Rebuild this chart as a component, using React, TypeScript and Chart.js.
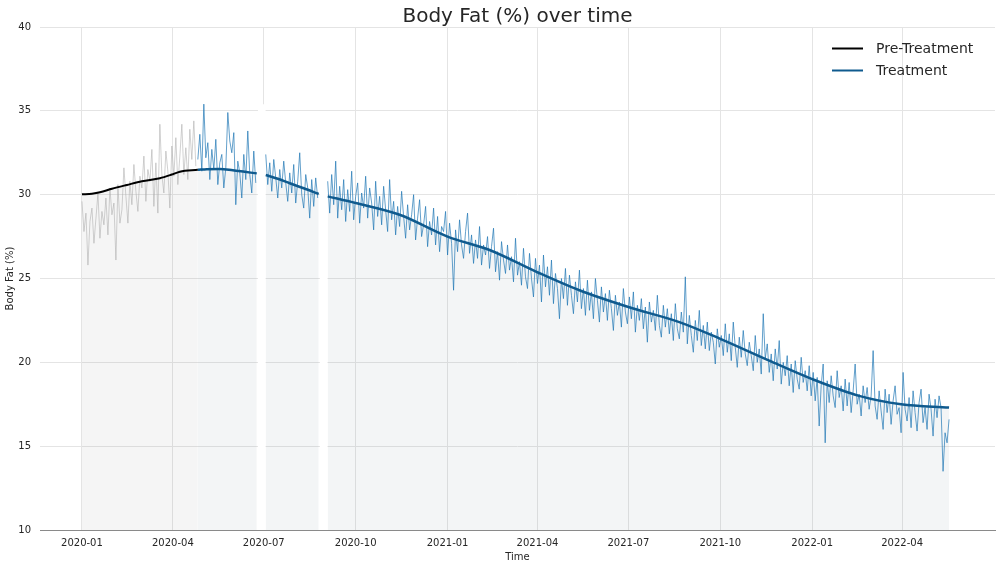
import React, { useEffect, useRef } from 'react';
import { Chart, registerables } from 'chart.js';

Chart.register(...registerables);

// ---- data ---------------------------------------------------------------

const TITLE = 'Body Fat (%) over time';
const X_TITLE = 'Time';
const Y_TITLE = 'Body Fat (%)';
const LEGEND_LABELS = ['Pre-Treatment', 'Treatment'];

const xTickLabels = [
  '2020-01', '2020-04', '2020-07', '2020-10', '2021-01',
  '2021-04', '2021-07', '2021-10', '2022-01', '2022-04',
];
const yTicks = [10, 15, 20, 25, 30, 35, 40];

// raw measurements, one every SAMPLE_STEP_DAYS days from each start date
const SAMPLE_STEP_DAYS = 2;

const preStart = '2020-01-01';
const preRaw = [
  29.6, 27.8, 28.9, 25.8, 28.4, 29.2, 27.1, 28.6, 30.1, 27.4, 29.0, 28.2, 29.8, 27.6, 30.4, 28.8,
  29.5, 26.1, 30.6, 28.3, 29.1, 31.6, 29.9, 28.3, 30.8, 29.4, 31.8, 30.2, 29.0, 31.1,
  30.4, 32.3, 29.6, 31.5, 30.8, 32.7, 29.3, 31.9, 28.9, 34.2, 31.2, 30.1, 32.6, 31.4, 29.2, 32.9,
  31.1, 33.4, 30.6, 32.3, 34.2, 31.2, 32.8, 30.9, 33.9, 32.1, 34.4, 31.7,
];

const treatStartA = '2020-04-26';
const treatRawA = [
  32.1, 33.6, 31.4, 35.4, 32.2, 33.1, 30.9, 32.7, 31.5, 33.3,
  30.6, 31.9, 32.4, 30.4, 31.6, 34.9, 33.2, 32.5, 33.7, 29.4,
  32.0, 31.3, 29.8, 32.4, 30.9, 33.8, 31.2, 30.1, 32.6, 30.7,
];

const treatStartB = '2020-07-03';
const treatRawB = [
  32.4, 30.6, 31.9, 30.2, 32.1, 31.0, 29.8, 31.5, 30.4, 32.0,
  30.7, 29.6, 31.3, 30.1, 31.8, 29.5, 30.8, 32.5, 30.0, 29.2,
  31.2, 30.4, 28.6, 30.9, 29.3, 31.0, 29.8,
];

const treatStartC = '2020-09-03';
const treatRawC = [
  30.8, 28.9, 31.2, 29.4, 32.0, 28.6, 30.5, 29.1, 30.9, 28.4,
  30.3, 29.0, 31.4, 28.5, 29.9, 30.7, 28.3, 30.1, 29.2, 31.1,
  28.6, 30.4, 29.5, 27.9, 30.8, 28.7, 29.9, 28.2, 30.5, 29.1,
  27.8, 30.9, 28.5, 29.6, 27.6, 29.3, 28.1, 30.2, 28.7, 27.4,
  29.4, 27.9, 28.8, 30.0, 27.3, 28.6, 29.7, 27.5, 28.2, 29.3,
  26.9, 28.4, 27.6, 29.2, 27.0, 28.7, 26.6, 28.1, 27.8, 29.0,
  26.4, 28.3, 27.1, 24.3, 27.9, 26.6, 28.5, 27.0, 26.2, 27.8,
  28.9, 26.5, 27.6, 25.9, 27.3, 26.2, 28.1, 25.8, 27.0, 26.4,
  27.5, 25.6, 26.9, 28.0, 25.4, 26.6, 24.9, 27.2, 26.1, 25.3,
  27.0, 25.5, 26.3, 24.8, 27.4, 25.2, 26.0, 24.6, 26.8, 25.1,
  24.4, 26.5, 25.0, 23.9, 26.2, 24.7, 25.8, 23.6, 26.4, 24.5,
  25.7, 24.0, 26.1, 23.5, 25.3, 24.4, 22.6, 25.0, 23.8, 25.6,
  23.4, 25.2, 24.0, 22.9, 24.8, 23.6, 25.5, 23.2, 24.4, 22.8,
  24.9, 23.1, 24.2, 22.6, 25.0, 23.7, 22.4, 24.5, 23.0, 24.1,
  22.5, 24.3, 23.2, 21.9, 24.0, 22.8, 23.6, 22.1, 24.4, 23.0,
  22.3, 23.9, 22.6, 24.2, 21.8, 23.4, 22.5, 23.8, 22.0, 23.3,
  21.2, 23.6, 22.4, 23.1, 21.9, 24.0, 22.2, 21.5, 23.4, 22.1,
  23.2, 21.7, 22.9, 21.3, 23.5, 22.0, 21.4, 23.0, 21.8, 25.1,
  21.1, 22.8, 21.6, 20.6, 22.5, 21.3, 23.1, 21.0, 22.2, 20.8,
  22.4, 20.7, 21.8, 21.2, 19.9, 22.0, 20.9, 21.6, 20.4, 22.3,
  20.6, 21.7, 20.1, 22.4, 20.9, 19.7, 21.5, 20.3, 21.9, 20.5,
  19.8, 21.2, 20.4, 19.5, 21.6, 20.0, 20.8, 19.3, 22.9, 20.2,
  21.1, 19.4, 20.5, 18.9, 20.8, 19.6, 21.3, 18.7, 20.0, 19.2,
  20.4, 18.6, 19.9, 18.2, 20.1, 19.0, 18.4, 20.3, 18.8, 19.5,
  18.3, 19.8, 18.0, 19.4, 17.7, 19.1, 16.2, 18.6, 19.9, 15.2,
  18.9, 17.6, 19.2, 18.0, 17.3, 19.5, 17.9, 18.6, 17.1, 19.0,
  17.4, 18.8, 17.0, 18.3, 19.9, 17.5, 18.1, 16.8, 18.6, 17.6,
  18.5, 17.2, 18.0, 20.7, 17.4, 16.6, 18.3, 17.1, 16.0, 18.4,
  17.0, 18.1, 16.3, 17.7, 18.6, 16.9, 17.3, 15.8, 19.4, 17.2,
  16.5, 17.9, 16.1, 18.3, 17.0, 15.9, 17.6, 18.4, 16.4, 17.3,
  16.0, 18.1, 17.2, 15.6, 17.8, 16.7, 18.0, 17.3, 13.5, 15.8,
  15.2, 16.6,
];

// smoothed trend lines
const preSmoothDates = [
  '2020-01-01', '2020-01-11', '2020-01-19', '2020-01-31', '2020-02-15',
  '2020-03-01', '2020-03-19', '2020-03-31', '2020-04-08', '2020-04-26',
];
const preSmooth = [30.02, 30.06, 30.14, 30.35, 30.58, 30.8, 30.98, 31.2, 31.37, 31.48];

const treatSmoothDatesA = ['2020-04-26', '2020-05-05', '2020-05-18', '2020-05-31', '2020-06-12', '2020-06-24'];
const treatSmoothA = [31.48, 31.52, 31.53, 31.45, 31.36, 31.27];

const treatSmoothDatesB = ['2020-07-03', '2020-07-15', '2020-07-27', '2020-08-10', '2020-08-25'];
const treatSmoothB = [31.17, 30.95, 30.68, 30.38, 30.04];

const treatSmoothDatesC = [
  '2020-09-03', '2020-10-01', '2020-11-14', '2021-01-01', '2021-02-12',
  '2021-03-31', '2021-05-13', '2021-07-01', '2021-08-21', '2021-10-01',
  '2021-11-19', '2022-01-01', '2022-02-17', '2022-03-31', '2022-05-18',
];
const treatSmoothC = [29.9, 29.5, 28.8, 27.5, 26.7, 25.4, 24.3, 23.3, 22.4, 21.4, 20.1, 19.0, 18.0, 17.5, 17.3];

// blank periods without measurements
const gapStarts = ['2020-06-25', '2020-08-26'];
const gapEnds = ['2020-07-03', '2020-09-03'];
const gapTops = [35.4, 32.0];

// ---- styling ------------------------------------------------------------

const FONT = '"DejaVu Sans", "Liberation Sans", sans-serif';
const TEXT = '#262626';
const GRID = '#e4e4e4';
const PRE_LINE = '#000000';
const TREAT_LINE = '#0f5a8e';
const PRE_RAW = 'rgba(170,170,170,0.6)';
const TREAT_RAW = 'rgba(31,119,180,0.78)';
const PRE_FILL = 'rgba(128,128,128,0.08)';
const TREAT_FILL = 'rgba(100,115,140,0.075)';

// ---- helpers ------------------------------------------------------------

const DAY0 = Date.UTC(2020, 0, 1);
const MS_DAY = 86400000;
const dayOf = (iso: string) => Math.round((Date.parse(iso + 'T00:00:00Z') - DAY0) / MS_DAY);
const tickDays = xTickLabels.map((m) => dayOf(m + '-01'));

const rawPoints = (start: string, values: number[]) => {
  const d0 = dayOf(start);
  return values.map((v, i) => ({ x: d0 + i * SAMPLE_STEP_DAYS, y: v }));
};
const datedPoints = (dates: string[], values: number[]) =>
  dates.map((d, i) => ({ x: dayOf(d), y: values[i] }));

const X_MIN = -42;
const X_MAX = 914;

// title and legend, placed relative to the plot area
const overlayText = {
  id: 'overlayText',
  afterDraw(chart: any) {
    const { ctx, chartArea } = chart;
    ctx.save();
    ctx.fillStyle = TEXT;
    ctx.font = `20px ${FONT}`;
    ctx.textAlign = 'center';
    ctx.textBaseline = 'middle';
    ctx.fillText(TITLE, (chartArea.left + chartArea.right) / 2, 17);

    const colors = [PRE_LINE, TREAT_LINE];
    ctx.font = `14px ${FONT}`;
    ctx.textAlign = 'left';
    LEGEND_LABELS.forEach((label, i) => {
      const y = chartArea.top + 21.5 + i * 22;
      ctx.strokeStyle = colors[i];
      ctx.lineWidth = 2;
      ctx.beginPath();
      ctx.moveTo(chartArea.right - 163, y);
      ctx.lineTo(chartArea.right - 132, y);
      ctx.stroke();
      ctx.fillText(label, chartArea.right - 119, y + 1);
    });
    ctx.restore();
  },
};

export default function App() {
  const canvasRef = useRef<HTMLCanvasElement | null>(null);

  useEffect(() => {
    document.body.style.margin = '0';
    const canvas = canvasRef.current;
    if (!canvas) return;

    const smoothLine = (data: any[], color: string, fill: string, width: number) => ({
      data,
      borderColor: color,
      borderWidth: width,
      backgroundColor: fill,
      fill: 'start',
      pointRadius: 0,
      cubicInterpolationMode: 'monotone',
    });
    const rawLine = (data: any[], color: string) => ({
      data,
      borderColor: color,
      borderWidth: 0.9,
      fill: false,
      pointRadius: 0,
      tension: 0,
    });
    const gapBand = (i: number) => ({
      data: [
        { x: dayOf(gapStarts[i]), y: gapTops[i] },
        { x: dayOf(gapEnds[i]), y: gapTops[i] },
      ],
      borderWidth: 0,
      borderColor: 'rgba(0,0,0,0)',
      backgroundColor: '#ffffff',
      fill: 'start',
      pointRadius: 0,
    });

    const chart = new Chart(canvas, {
      type: 'line',
      data: {
        datasets: [
          smoothLine(datedPoints(preSmoothDates, preSmooth), PRE_LINE, PRE_FILL, 2),
          smoothLine(datedPoints(treatSmoothDatesA, treatSmoothA), TREAT_LINE, TREAT_FILL, 2.5),
          smoothLine(datedPoints(treatSmoothDatesB, treatSmoothB), TREAT_LINE, TREAT_FILL, 2.5),
          smoothLine(datedPoints(treatSmoothDatesC, treatSmoothC), TREAT_LINE, TREAT_FILL, 2.5),
          rawLine(rawPoints(preStart, preRaw), PRE_RAW),
          rawLine(rawPoints(treatStartA, treatRawA), TREAT_RAW),
          rawLine(rawPoints(treatStartB, treatRawB), TREAT_RAW),
          rawLine(rawPoints(treatStartC, treatRawC), TREAT_RAW),
          gapBand(0),
          gapBand(1),
        ] as any,
      },
      options: {
        animation: false,
        responsive: true,
        maintainAspectRatio: false,
        events: [],
        font: { family: FONT },
        layout: { padding: { top: 27, right: 5, left: 0, bottom: 0 } },
        plugins: {
          legend: { display: false },
          title: { display: false },
          tooltip: { enabled: false },
          filler: { drawTime: 'beforeDatasetsDraw' },
        },
        scales: {
          x: {
            type: 'linear',
            min: X_MIN,
            max: X_MAX,
            afterBuildTicks: (s: any) => {
              s.ticks = tickDays.map((v) => ({ value: v }));
            },
            afterFit: (s: any) => {
              s.height = 38;
            },
            ticks: {
              autoSkip: false,
              maxRotation: 0,
              padding: 7,
              color: TEXT,
              font: { family: FONT, size: 10 },
              callback: (v: any) => {
                const i = tickDays.indexOf(Number(v));
                return i >= 0 ? xTickLabels[i] : '';
              },
            },
            grid: { color: GRID, drawTicks: false, lineWidth: 1 },
            border: { display: true, color: '#8a8a8a', width: 1 },
            title: {
              display: true,
              text: X_TITLE,
              color: TEXT,
              font: { family: FONT, size: 10 },
              padding: { top: 0, bottom: 5 },
            },
          },
          y: {
            min: 10,
            max: 40,
            afterBuildTicks: (s: any) => {
              s.ticks = yTicks.map((v) => ({ value: v }));
            },
            afterFit: (s: any) => {
              s.width = 40;
            },
            ticks: {
              padding: 9,
              color: TEXT,
              font: { family: FONT, size: 10 },
            },
            grid: { color: GRID, drawTicks: false, lineWidth: 1 },
            border: { display: false },
            title: {
              display: true,
              text: Y_TITLE,
              color: TEXT,
              font: { family: FONT, size: 10 },
              padding: { top: 4, bottom: 0 },
            },
          },
        },
      } as any,
      plugins: [overlayText],
    });

    return () => chart.destroy();
  }, []);

  return (
    <div style={{ width: 1000, height: 568, position: 'relative' }}>
      <canvas ref={canvasRef} />
    </div>
  );
}
